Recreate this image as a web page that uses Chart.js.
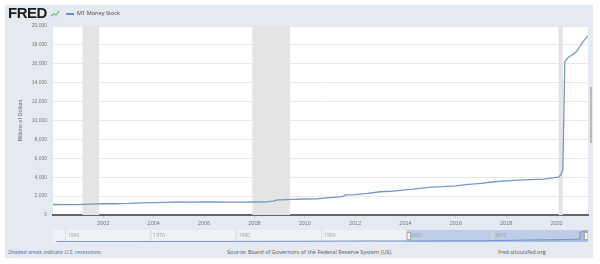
<!DOCTYPE html>
<html>
<head>
<meta charset="utf-8">
<script src="https://cdn.jsdelivr.net/npm/chart.js@4.4.1/dist/chart.umd.min.js"></script>
<style>
  body { margin: 0; background: #fff; width: 600px; height: 264px; overflow: hidden; font-family: "Open Sans", "Liberation Sans", sans-serif; }
  #panel { position: absolute; left: 5px; top: 5px; width: 588px; height: 253px; background: #e5eaf2; }
  #main { position: absolute; left: 0; top: 0; }
  #nav { position: absolute; left: 53px; top: 230px; }
  .txt { position: absolute; white-space: nowrap; }
  #logo { left: 8px; top: 4px; font: 900 15px "Liberation Sans", Arial, sans-serif; color: #1d1d1d; letter-spacing: -0.5px; }
  #icon { position: absolute; left: 50px; top: 9px; }
  #legline { position: absolute; left: 66px; top: 13px; width: 8px; height: 1.5px; background: #6b8cc4; }
  #legtxt { left: 77px; top: 9px; font-size: 5.6px; color: #444; }
  #foot1 { left: 8px; top: 248px; font-size: 5.6px; color: #4d6ea3; font-style: italic; }
  #foot2 { left: 227px; top: 248px; font-size: 5.6px; color: #555; }
  #foot3 { left: 498px; top: 248px; font-size: 5.6px; color: #555; }
  #scroll { position: absolute; left: 590px; top: 87px; width: 1.5px; height: 56px; background: #bbb; }
</style>
</head>
<body>
<div id="panel"></div>
<canvas id="main" width="600" height="230"></canvas>
<canvas id="nav" width="535" height="12"></canvas>
<div class="txt" id="logo">FRED</div>
<svg id="icon" width="10" height="9" viewBox="0 0 10 9">
  <rect x="0" y="0" width="10" height="9" fill="#dfe9f3"/>
  <polyline points="1,7 4,5 6,6 9,2" fill="none" stroke="#7fb24a" stroke-width="1.2"/>
</svg>
<div id="legline"></div>
<div class="txt" id="legtxt">M1 Money Stock</div>
<div class="txt" id="foot1">Shaded areas indicate U.S. recessions.</div>
<div class="txt" id="foot2">Source: Board of Governors of the Federal Reserve System (US)</div>
<div class="txt" id="foot3">fred.stlouisfed.org</div>
<div id="scroll"></div>
<script>
// M1 货币存量（十亿美元），时间用小数年份
const m1Dates = [2000.0, 2000.5, 2001.0, 2001.5, 2001.75, 2002.0, 2002.5, 2003.0, 2003.5, 2004.0, 2004.5,
  2005.0, 2005.5, 2006.0, 2006.5, 2007.0, 2007.5, 2008.0, 2008.5, 2008.75, 2008.92, 2009.0, 2009.5,
  2010.0, 2010.5, 2011.0, 2011.5, 2011.62, 2012.0, 2012.5, 2013.0, 2013.5, 2014.0, 2014.5, 2015.0,
  2015.5, 2016.0, 2016.5, 2017.0, 2017.5, 2018.0, 2018.5, 2019.0, 2019.5, 2020.0, 2020.08, 2020.17,
  2020.25, 2020.33, 2020.42, 2020.5, 2020.58, 2020.67, 2020.75, 2020.83, 2020.92, 2021.0, 2021.08,
  2021.17, 2021.25];
const m1Values = [1110, 1105, 1100, 1150, 1170, 1190, 1190, 1220, 1280, 1305, 1340,
  1375, 1370, 1375, 1375, 1370, 1372, 1375, 1395, 1460, 1600, 1610, 1660,
  1695, 1720, 1835, 1950, 2120, 2165, 2290, 2460, 2530, 2660, 2800, 2940,
  3000, 3090, 3250, 3340, 3520, 3610, 3680, 3750, 3800, 3990, 4010, 4260,
  4780, 16230, 16560, 16740, 16880, 17020, 17230, 17400, 17830, 18140, 18430,
  18720, 18960];

// 衰退区间
const recessionStarts = [2001.17, 2007.92, 2020.08];
const recessionEnds = [2001.83, 2009.42, 2020.25];

// 坐标轴刻度
const xTickYears = [2002, 2004, 2006, 2008, 2010, 2012, 2014, 2016, 2018, 2020];
const yTickStep = 2000;

// 导航条数据
const navDates = [1959.0, 1965.0, 1970.0, 1975.0, 1980.0, 1985.0, 1990.0, 1995.0, 2000.0, 2005.0,
  2010.0, 2015.0, 2020.0, 2020.25, 2020.33, 2021.25];
const navValues = [139, 168, 206, 274, 385, 575, 795, 1150, 1122, 1375, 1695, 3000, 4000, 4780, 16230, 18960];
const navTickYears = [1960, 1970, 1980, 1990, 2000, 2010];
const navSelection = [2000.0, 2021.25];

/**
 * 绘图区白底 + 衰退阴影
 */
const plotBackground = {
  id: 'plotBackground',
  beforeDraw(chart) {
    const { ctx, chartArea: a } = chart;
    ctx.save();
    ctx.fillStyle = '#ffffff';
    ctx.fillRect(a.left, a.top, a.right - a.left, a.bottom - a.top);
    ctx.restore();
  },
  beforeDatasetsDraw(chart) {
    const { ctx, chartArea: a, scales } = chart;
    ctx.save();
    ctx.fillStyle = '#e4e4e4';
    recessionStarts.forEach((s, i) => {
      const x1 = scales.x.getPixelForValue(s);
      const x2 = scales.x.getPixelForValue(recessionEnds[i]);
      ctx.fillRect(x1, a.top, x2 - x1, a.bottom - a.top);
    });
    ctx.restore();
  }
};

new Chart(document.getElementById('main'), {
  type: 'line',
  data: {
    datasets: [{
      data: m1Dates.map((d, i) => ({ x: d, y: m1Values[i] })),
      borderColor: '#7896c9',
      borderWidth: 1.3,
      pointRadius: 0,
      tension: 0
    }]
  },
  options: {
    animation: false,
    responsive: false,
    devicePixelRatio: 1,
    layout: { padding: { top: 26, right: 12, left: 0, bottom: 0 } },
    plugins: { legend: { display: false }, tooltip: { enabled: false } },
    scales: {
      x: {
        type: 'linear',
        min: m1Dates[0],
        max: m1Dates[m1Dates.length - 1],
        afterBuildTicks: s => { s.ticks = xTickYears.map(v => ({ value: v })); },
        afterFit: s => { s.height = 15; },
        ticks: { font: { size: 5.5 }, color: '#777', padding: 2, maxRotation: 0, autoSkip: false, callback: v => String(v) },
        grid: { drawOnChartArea: false, drawTicks: true, tickLength: 3, color: '#d0d0d0' },
        border: { color: '#666666', width: 2 }
      },
      y: {
        min: 0,
        max: 20000,
        afterFit: s => { s.width = 53; },
        ticks: { stepSize: yTickStep, font: { size: 5 }, color: '#777', padding: 6, callback: v => v.toLocaleString('en-US') },
        grid: { color: '#e8e8e8', drawTicks: false },
        border: { display: false },
        title: { display: true, text: 'Billions of Dollars', font: { size: 5.5 }, color: '#666', padding: { top: 17, bottom: 0 } }
      }
    }
  },
  plugins: [plotBackground]
});

/**
 * 导航条：背景、选区、刻度文字和手柄
 */
const navDecor = {
  id: 'navDecor',
  beforeDraw(chart) {
    const { ctx, width, height } = chart;
    ctx.save();
    ctx.fillStyle = '#eef1f6';
    ctx.fillRect(0, 0, width, height);
    ctx.restore();
  },
  beforeDatasetsDraw(chart) {
    const { ctx, height, scales } = chart;
    const x1 = scales.x.getPixelForValue(navSelection[0]);
    const x2 = scales.x.getPixelForValue(navSelection[1]);
    ctx.save();
    ctx.fillStyle = 'rgba(150, 175, 220, 0.55)';
    ctx.fillRect(x1, 0, x2 - x1, height);
    ctx.font = '5px "Open Sans", sans-serif';
    ctx.fillStyle = '#9a9a9a';
    ctx.textBaseline = 'middle';
    navTickYears.forEach(y => {
      const x = scales.x.getPixelForValue(y);
      ctx.strokeStyle = '#d6dbe3';
      ctx.beginPath();
      ctx.moveTo(x + 0.5, 0);
      ctx.lineTo(x + 0.5, height);
      ctx.stroke();
      ctx.fillText(String(y), x + 3, height / 2);
    });
    ctx.restore();
  },
  afterDraw(chart) {
    const { ctx, height, scales } = chart;
    ctx.save();
    [navSelection[0], navSelection[1]].forEach((v, i) => {
      let x = scales.x.getPixelForValue(v);
      x = i === 0 ? x : x - 4;
      ctx.fillStyle = '#f4f4f4';
      ctx.strokeStyle = '#999';
      ctx.lineWidth = 0.8;
      ctx.fillRect(x, 2, 4, height - 4);
      ctx.strokeRect(x + 0.5, 2.5, 3.5, height - 5);
    });
    ctx.restore();
  }
};

new Chart(document.getElementById('nav'), {
  type: 'line',
  data: {
    datasets: [{
      data: navDates.map((d, i) => ({ x: d, y: navValues[i] })),
      borderColor: '#7896c9',
      backgroundColor: 'rgba(120, 150, 201, 0.35)',
      fill: true,
      borderWidth: 1,
      pointRadius: 0,
      tension: 0
    }]
  },
  options: {
    animation: false,
    responsive: false,
    devicePixelRatio: 1,
    layout: { padding: 0 },
    plugins: { legend: { display: false }, tooltip: { enabled: false } },
    scales: {
      x: { type: 'linear', display: false, min: 1958.6, max: 2021.25 },
      y: { display: false, min: -600, max: 20000 }
    }
  },
  plugins: [navDecor]
});
</script>
</body>
</html>
